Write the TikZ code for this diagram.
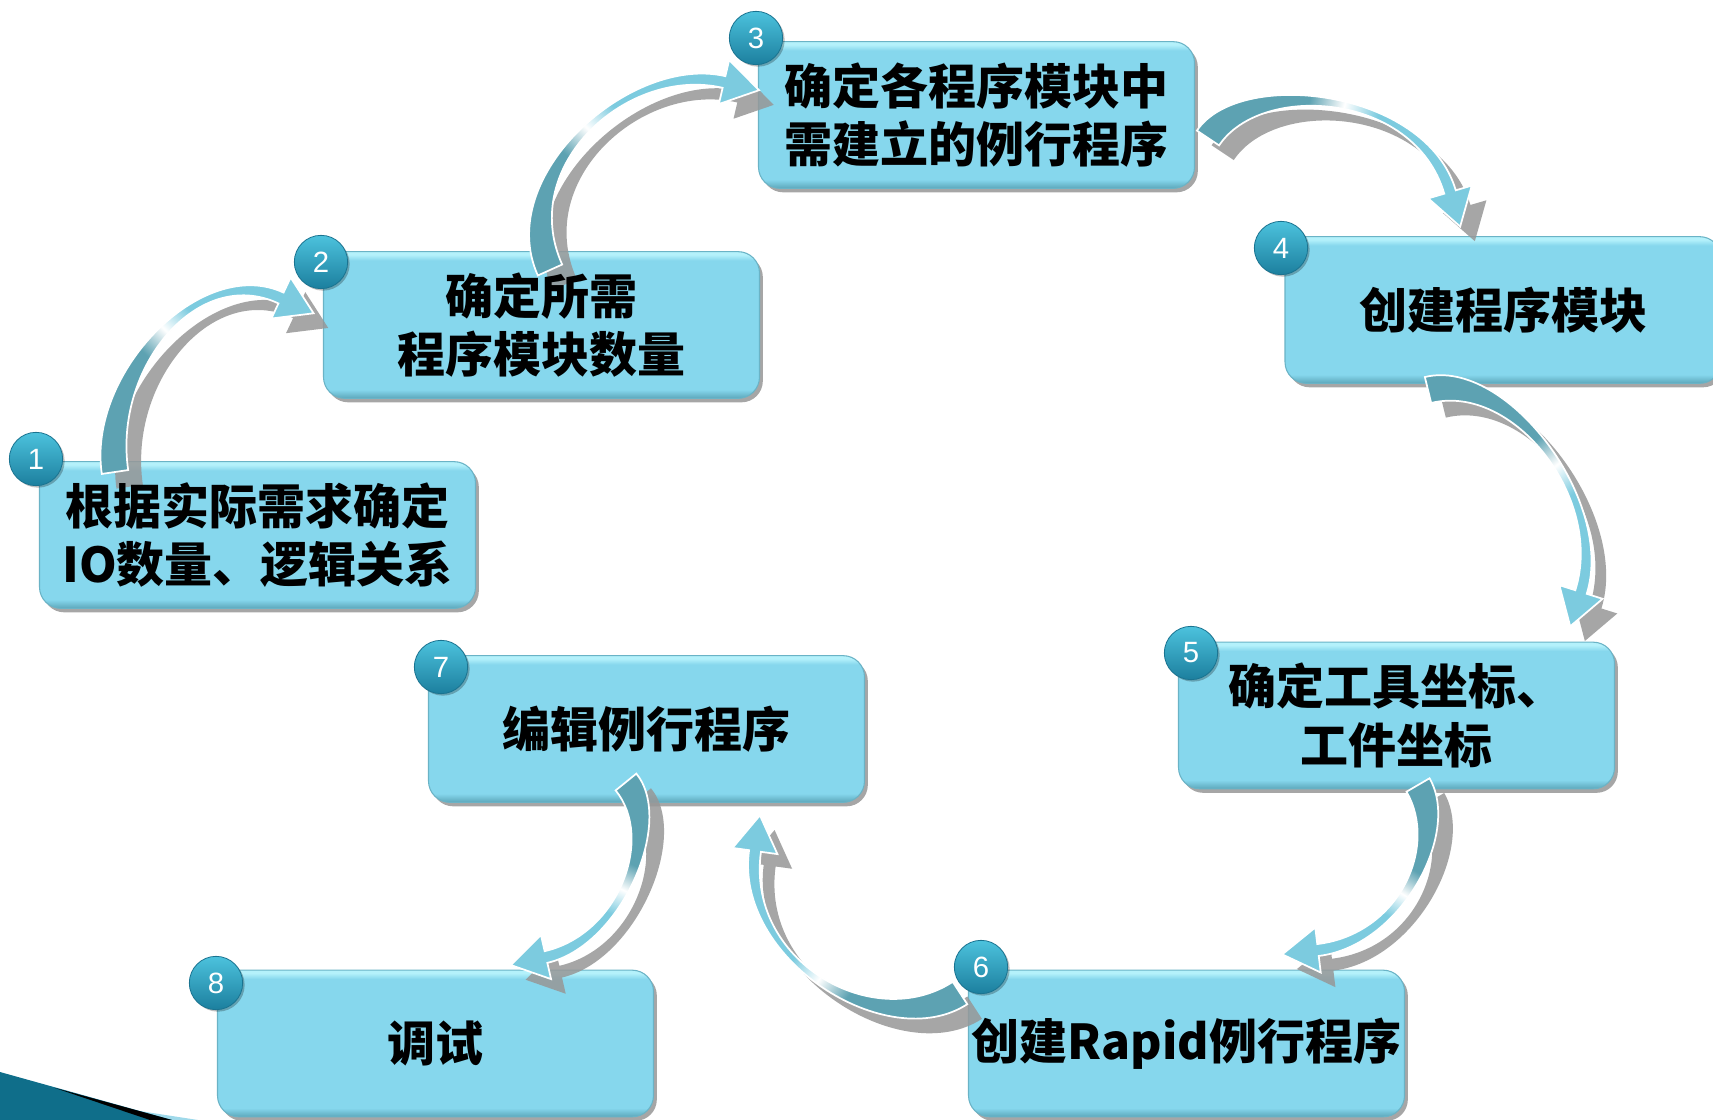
\documentclass[tikz,border=0pt]{standalone}
\usepackage{fontspec}
\setmainfont{Noto Sans CJK SC}
\newfontfamily\numfont{Liberation Sans}
\usetikzlibrary{calc,shadows}
\definecolor{boxfill}{HTML}{86D7ED}
\definecolor{boxtop}{HTML}{B4F1FB}
\definecolor{boxdark}{HTML}{5CA7BA}
\definecolor{boxline}{HTML}{6AB3C6}
\definecolor{arrowdark}{HTML}{5DA2B2}
\definecolor{arrowlight}{HTML}{7CCBDF}
\definecolor{shadowgray}{HTML}{979797}
\definecolor{badgetop}{HTML}{4CC2DD}
\definecolor{badgebot}{HTML}{1C7F9E}
\definecolor{badgeline}{HTML}{1A7390}
\definecolor{wedgeblue}{HTML}{0F6E8A}
\definecolor{wedgelight}{HTML}{9FD9EA}
\pgfdeclareverticalshading{ribbonshade}{100bp}{color(0bp)=(arrowlight); color(43bp)=(arrowlight); color(50bp)=(white); color(57bp)=(arrowdark); color(100bp)=(arrowdark)}
\pgfdeclareverticalshading{boxshade}{100bp}{color(0bp)=(boxdark); color(25bp)=(boxdark); color(28bp)=(boxfill); color(72bp)=(boxfill); color(74bp)=(boxtop); color(100bp)=(boxtop)}
\def\rwa{10pt}
\def\rwb{4.5pt}
\def\rwh{17pt}
\def\rhl{27pt}
\newcommand\ribbon[5]{%
  \path[#5] ($(#1)!\rwa!90:(#2)$) .. controls ($(#2)!\rwa!-90:(#1)$) and ($(#3)!\rwb!90:(#4)$) .. ($(#4)!\rwb!-90:(#3)$)
  -- ($(#4)!\rwh!-90:(#3)$) -- ($(#4)!-\rhl!(#3)$) -- ($(#4)!\rwh!90:(#3)$) -- ($(#4)!\rwb!90:(#3)$)
  .. controls ($(#3)!\rwb!-90:(#4)$) and ($(#2)!\rwa!90:(#1)$) .. ($(#1)!\rwa!-90:(#2)$) -- cycle;}
\tikzset{
  box/.style={rounded corners=16pt, minimum width=327pt, minimum height=110pt, shade, shading=boxshade, draw=boxline, line width=0.8pt,
    drop shadow={shadow xshift=2.5pt, shadow yshift=-3pt, fill=black, opacity=0.35}},
  txt/.style={font=\bfseries\fontsize{36pt}{44pt}\selectfont, align=center, text=black, inner sep=0pt},
  badge/.style={circle, minimum size=40pt, inner sep=0pt, top color=badgetop, bottom color=badgebot, draw=badgeline, line width=0.6pt,
    text=white, font=\numfont\fontsize{22pt}{22pt}\selectfont,
    drop shadow={shadow xshift=1.5pt, shadow yshift=-1.5pt, fill=black, opacity=0.25}},
  shadowrib/.style={fill=shadowgray, fill opacity=0.85, transform canvas={xshift=11pt, yshift=-11pt}},
  mainrib/.style={shade, shading=ribbonshade, shading angle=#1, draw=white, line width=1.3pt}
}
\begin{document}
\begin{tikzpicture}[x=0.75pt, y=-0.75pt]
\useasboundingbox (0,0) rectangle (1713,1120);
\fill[white] (0,0) rectangle (1713,1120);
% boxes
\node[box] (b1) at (257.5,535) {};
\node[box] (b2) at (541.5,325) {};
\node[box] (b3) at (976.5,115) {};
\node[box] (b4) at (1503,310) {};
\node[box] (b5) at (1396.5,715.5) {};
\node[box] (b6) at (1186.5,1043.5) {};
\node[box] (b7) at (646.5,729) {};
\node[box] (b8) at (435.5,1043.5) {};
% arrow coordinates
\coordinate (a1s) at (115,472); \coordinate (a1c) at (100,370); \coordinate (a1d) at (200,260); \coordinate (a1e) at (281,298);
\coordinate (a2s) at (550,270); \coordinate (a2c) at (505,170); \coordinate (a2d) at (630,60); \coordinate (a2e) at (724,82);
\coordinate (a3s) at (1208,138); \coordinate (a3c) at (1250,75); \coordinate (a3d) at (1420,90); \coordinate (a3e) at (1450,192);
\coordinate (a4s) at (1428,390); \coordinate (a4c) at (1510,370); \coordinate (a4d) at (1610,500); \coordinate (a4e) at (1581,592);
\coordinate (a5s) at (1418,785); \coordinate (a5c) at (1450,840); \coordinate (a5d) at (1400,940); \coordinate (a5e) at (1318,950);
\coordinate (a6s) at (960,993); \coordinate (a6c) at (880,1045); \coordinate (a6d) at (740,960); \coordinate (a6e) at (755,851);
\coordinate (a7s) at (626,782); \coordinate (a7c) at (665,830); \coordinate (a7d) at (620,940); \coordinate (a7e) at (546,957);
% ribbons
\foreach \a/\ang in {1/135.7, 2/136.7, 3/76.6, 4/36.6, 5/-31.2, 6/-125.3, 7/-24.2}{
  \ribbon{a\a s}{a\a c}{a\a d}{a\a e}{shadowrib}
  \ribbon{a\a s}{a\a c}{a\a d}{a\a e}{mainrib=\ang}
}
% texts
\node[txt] (t1) at (b1) {根据实际需求确定\\IO数量、逻辑关系};
\node[txt] (t2) at (b2) {确定所需\\程序模块数量};
\node[txt] (t3) at (b3) {确定各程序模块中\\需建立的例行程序};
\node[txt] (t4) at (b4) {创建程序模块};
\node[txt] (t5) at (b5) {确定工具坐标、\\工件坐标};
\node[txt] (t6) at (b6) {创建Rapid例行程序};
\node[txt] (t7) at (b7) {编辑例行程序};
\node[txt] (t8) at (b8) {调试};
% badges
\node[badge] (n1) at (36,459) {1};
\node[badge] (n2) at (321,262) {2};
\node[badge] (n3) at (756,38) {3};
\node[badge] (n4) at (1281,248) {4};
\node[badge] (n5) at (1191,653) {5};
\node[badge] (n6) at (981,967) {6};
\node[badge] (n7) at (441,667) {7};
\node[badge] (n8) at (216,983) {8};
% corner wedge
\fill[wedgelight] (120,1108) -- (198,1120) -- (150,1120) -- cycle;
\fill[wedgeblue] (0,1072) -- (172,1120) -- (0,1120) -- cycle;
\fill[black] (55,1088) -- (172,1120) -- (150,1120) -- cycle;
\end{tikzpicture}
\end{document}
